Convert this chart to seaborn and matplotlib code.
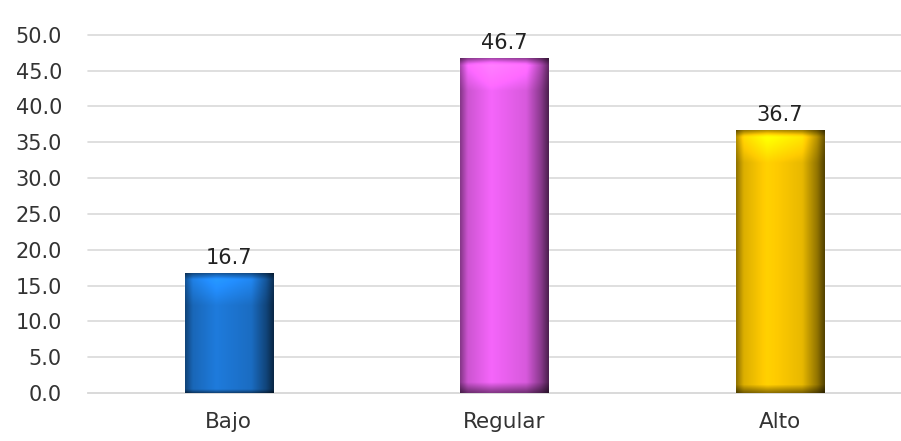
import numpy as np
import pandas as pd
import seaborn as sns
import matplotlib.pyplot as plt
from matplotlib.colors import to_rgb

categories = ['Bajo', 'Regular', 'Alto']
values = [16.7, 46.7, 36.7]
colors = ['#1c72cc', '#e35ee8', '#f4c200']
yticks = [0, 5, 10, 15, 20, 25, 30, 35, 40, 45, 50]

df = pd.DataFrame({'Nivel': categories, 'Porcentaje': values})

sns.set_style('white')
plt.rcParams['font.family'] = ['DejaVu Sans']

fig = plt.figure(figsize=(9.01, 4.41), dpi=100)
ax = fig.add_axes([0.098, 0.109, 0.902, 0.812])

sns.barplot(data=df, x='Nivel', y='Porcentaje', hue='Nivel', palette=colors,
            width=0.32, legend=False, ax=ax, zorder=3)

# fake bevel shading on each bar
for patch, col in zip(ax.patches, colors):
    x0, y0 = patch.get_x(), patch.get_y()
    w, h = patch.get_width(), patch.get_height()
    base = np.array(to_rgb(col))
    nx, ny = 60, 200
    xs = np.linspace(0, 1, nx)
    fx = np.interp(xs, [0, 0.08, 0.35, 0.75, 0.92, 1.0], [0.6, 0.9, 1.08, 0.95, 0.6, 0.35])
    ys = np.linspace(0, 1, ny)  # 0 = top
    top_px = 0.06 * 46.7 / max(h, 1)
    fy = np.interp(ys, [0, top_px * 0.3, top_px, top_px * 1.6, 1 - 0.03, 1.0], [0.7, 1.25, 1.12, 1.0, 1.0, 0.55])
    shade = np.outer(fy, fx)
    img = np.clip(base[None, None, :] * shade[:, :, None], 0, 1)
    im = ax.imshow(img, extent=[x0, x0 + w, y0, y0 + h], aspect='auto',
                   interpolation='bilinear', zorder=4)
    im.set_clip_path(patch)

for patch, v in zip(ax.patches, values):
    ax.annotate(f'{v:.1f}', (patch.get_x() + patch.get_width() / 2, v),
                xytext=(0, 4), textcoords='offset points', ha='center', va='bottom',
                fontsize=15, color='#222222', zorder=5)

ax.set_xlim(-0.51, 2.44)
ax.set_ylim(0, 50)
ax.set_yticks(yticks)
ax.set_yticklabels([f'{t:.1f}' for t in yticks])
ax.yaxis.grid(True, color='#d9d9d9', linewidth=1.2, zorder=0)
for line in ax.get_ygridlines():
    line.set_clip_on(False)
ax.set_axisbelow(True)
ax.set_xlabel('')
ax.set_ylabel('')
for s in ['top', 'right', 'left']:
    ax.spines[s].set_visible(False)
ax.spines['bottom'].set_color('#d9d9d9')
ax.spines['bottom'].set_linewidth(1.2)
ax.tick_params(axis='y', length=0, pad=19, labelsize=15, labelcolor='#333333')
ax.tick_params(axis='x', length=0, pad=14, labelsize=15.5, labelcolor='#333333')

fig.savefig('out.png', dpi=100)
